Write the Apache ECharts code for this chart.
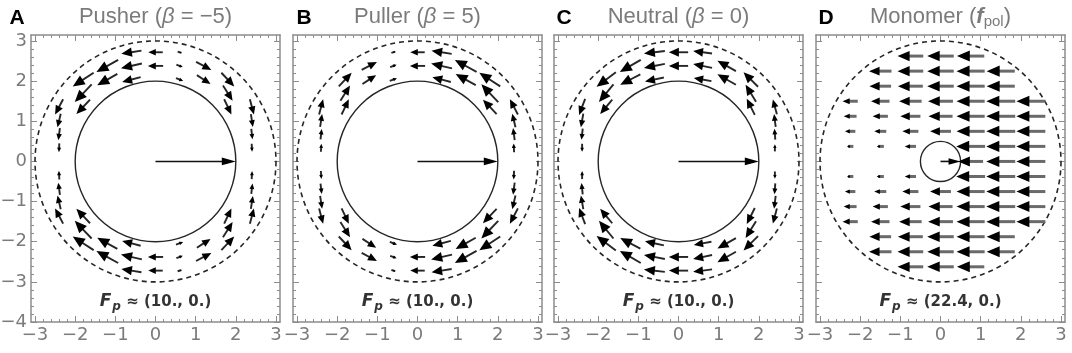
<!DOCTYPE html>
<html>
<head>
<meta charset="utf-8">
<script src="https://cdn.jsdelivr.net/npm/echarts@6/dist/echarts.min.js"></script>
<style>
  html, body { margin: 0; padding: 0; background: #fff; }
  #chart { width: 1072px; height: 353px; }
</style>
</head>
<body>
<div id="chart"></div>
<script>
// tick values
const xTicks = [-3, -2, -1, 0, 1, 2, 3];
const yTicks = [-4, -3, -2, -1, 0, 1, 2, 3];

// panel texts
const panelLetters = ['A', 'B', 'C', 'D'];
const panelTitles = ['Pusher ({i|β} = −5)', 'Puller ({i|β} = 5)', 'Neutral ({i|β} = 0)', 'Monomer ({b|f}{s|pol})'];
const forceText = ['(10., 0.)', '(10., 0.)', '(10., 0.)', '(22.4, 0.)'];

// body circle / outer dashed circle radius
const bodyRadius = [2, 2, 2, 0.5];
const outerRadius = [3, 3, 3, 3];

// propulsion arrow: tail x, tail y, dx, dy
const forceArrows = [[0, 0, 2, 0], [0, 0, 2, 0], [0, 0, 2, 0], [0, 0, 0.5, 0]];

// flow arrows: centre x, centre y, u, v
const pusherArrows = [
  [-0.6, 2.72, -0.5, -0.08], [0, 2.72, -0.36, 0], [0.6, 2.72, 0.1, -0.03],
  [-1.2, 2.38, -0.54, -0.3], [-0.6, 2.38, -0.52, -0.12], [0, 2.38, -0.38, 0], [0.6, 2.38, 0.16, -0.06], [1.2, 2.38, 0.38, -0.2],
  [-1.8, 2.04, -0.52, -0.34], [-1.2, 2.04, -0.5, -0.28], [-0.6, 2.04, -0.46, -0.12], [0.6, 2.04, 0.18, -0.07], [1.2, 2.04, 0.34, -0.22], [1.8, 2.04, 0.32, -0.34],
  [-1.8, 1.7, -0.42, -0.44], [1.8, 1.7, 0.24, -0.38],
  [-2.4, 1.36, -0.2, -0.38], [-1.8, 1.36, -0.34, -0.36], [1.8, 1.36, 0.18, -0.38], [2.4, 1.36, 0.1, -0.38],
  [-2.4, 1.02, -0.08, -0.34], [2.4, 1.02, 0.05, -0.32],
  [-2.4, 0.68, -0.04, -0.3], [2.4, 0.68, 0.03, -0.26],
  [-2.4, 0.34, -0.01, -0.22], [2.4, 0.34, 0.01, -0.2],
  [-2.4, -0.34, -0.01, 0.22], [2.4, -0.34, 0.01, 0.2],
  [-2.4, -0.68, -0.04, 0.3], [2.4, -0.68, 0.03, 0.26],
  [-2.4, -1.02, -0.08, 0.34], [2.4, -1.02, 0.05, 0.32],
  [-2.4, -1.36, -0.2, 0.38], [-1.8, -1.36, -0.34, 0.36], [1.8, -1.36, 0.18, 0.38], [2.4, -1.36, 0.1, 0.38],
  [-1.8, -1.7, -0.42, 0.44], [1.8, -1.7, 0.24, 0.38],
  [-1.8, -2.04, -0.52, 0.34], [-1.2, -2.04, -0.5, 0.28], [-0.6, -2.04, -0.46, 0.12], [0.6, -2.04, 0.18, 0.07], [1.2, -2.04, 0.34, 0.22], [1.8, -2.04, 0.32, 0.34],
  [-1.2, -2.38, -0.54, 0.3], [-0.6, -2.38, -0.52, 0.12], [0, -2.38, -0.38, 0], [0.6, -2.38, 0.16, 0.06], [1.2, -2.38, 0.38, 0.2],
  [-0.6, -2.72, -0.5, 0.08], [0, -2.72, -0.36, 0], [0.6, -2.72, 0.1, 0.03]
];

const pullerArrows = [
  [0.6, 2.72, -0.5, 0.08], [0, 2.72, -0.36, 0], [-0.6, 2.72, 0.1, 0.03],
  [1.2, 2.38, -0.54, 0.3], [0.6, 2.38, -0.52, 0.12], [0, 2.38, -0.38, 0], [-0.6, 2.38, 0.16, 0.06], [-1.2, 2.38, 0.38, 0.2],
  [1.8, 2.04, -0.52, 0.34], [1.2, 2.04, -0.5, 0.28], [0.6, 2.04, -0.46, 0.12], [-0.6, 2.04, 0.18, 0.07], [-1.2, 2.04, 0.34, 0.22], [-1.8, 2.04, 0.32, 0.34],
  [1.8, 1.7, -0.42, 0.44], [-1.8, 1.7, 0.24, 0.38],
  [2.4, 1.36, -0.2, 0.38], [1.8, 1.36, -0.34, 0.36], [-1.8, 1.36, 0.18, 0.38], [-2.4, 1.36, 0.1, 0.38],
  [2.4, 1.02, -0.08, 0.34], [-2.4, 1.02, 0.05, 0.32],
  [2.4, 0.68, -0.04, 0.3], [-2.4, 0.68, 0.03, 0.26],
  [2.4, 0.34, -0.01, 0.22], [-2.4, 0.34, 0.01, 0.2],
  [2.4, -0.34, -0.01, -0.22], [-2.4, -0.34, 0.01, -0.2],
  [2.4, -0.68, -0.04, -0.3], [-2.4, -0.68, 0.03, -0.26],
  [2.4, -1.02, -0.08, -0.34], [-2.4, -1.02, 0.05, -0.32],
  [2.4, -1.36, -0.2, -0.38], [1.8, -1.36, -0.34, -0.36], [-1.8, -1.36, 0.18, -0.38], [-2.4, -1.36, 0.1, -0.38],
  [1.8, -1.7, -0.42, -0.44], [-1.8, -1.7, 0.24, -0.38],
  [1.8, -2.04, -0.52, -0.34], [1.2, -2.04, -0.5, -0.28], [0.6, -2.04, -0.46, -0.12], [-0.6, -2.04, 0.18, -0.07], [-1.2, -2.04, 0.34, -0.22], [-1.8, -2.04, 0.32, -0.34],
  [1.2, -2.38, -0.54, -0.3], [0.6, -2.38, -0.52, -0.12], [0, -2.38, -0.38, 0], [-0.6, -2.38, 0.16, -0.06], [-1.2, -2.38, 0.38, -0.2],
  [0.6, -2.72, -0.5, -0.08], [0, -2.72, -0.36, 0], [-0.6, -2.72, 0.1, -0.03]
];

const neutralArrows = [
  [-0.6, 2.72, -0.52, -0.06], [0, 2.72, -0.48, 0], [0.6, 2.72, -0.47, 0.06],
  [-1.2, 2.38, -0.52, -0.3], [-0.6, 2.38, -0.52, -0.1], [0, 2.38, -0.48, 0], [0.6, 2.38, -0.47, 0.1], [1.2, 2.38, -0.46, 0.26],
  [-1.8, 2.04, -0.48, -0.36], [-1.2, 2.04, -0.5, -0.26], [-0.6, 2.04, -0.47, -0.1], [0.6, 2.04, -0.44, 0.08], [1.2, 2.04, -0.46, 0.26], [1.8, 2.04, -0.36, 0.36],
  [-1.8, 1.7, -0.36, -0.44], [1.8, 1.7, -0.26, 0.42],
  [-2.4, 1.36, -0.15, -0.4], [-1.8, 1.36, -0.3, -0.36], [1.8, 1.36, -0.2, 0.4], [2.4, 1.36, -0.1, 0.37],
  [-2.4, 1.02, -0.06, -0.34], [2.4, 1.02, -0.04, 0.32],
  [-2.4, 0.68, -0.03, -0.28], [2.4, 0.68, -0.02, 0.27],
  [-2.4, 0.34, 0, -0.2], [2.4, 0.34, 0, 0.18],
  [-2.4, -0.34, 0, 0.2], [2.4, -0.34, 0, -0.18],
  [-2.4, -0.68, -0.03, 0.28], [2.4, -0.68, -0.02, -0.27],
  [-2.4, -1.02, -0.06, 0.34], [2.4, -1.02, -0.04, -0.32],
  [-2.4, -1.36, -0.15, 0.4], [-1.8, -1.36, -0.3, 0.36], [1.8, -1.36, -0.2, -0.4], [2.4, -1.36, -0.1, -0.37],
  [-1.8, -1.7, -0.36, 0.44], [1.8, -1.7, -0.26, -0.42],
  [-1.8, -2.04, -0.48, 0.36], [-1.2, -2.04, -0.5, 0.26], [-0.6, -2.04, -0.47, 0.1], [0.6, -2.04, -0.44, -0.08], [1.2, -2.04, -0.46, -0.26], [1.8, -2.04, -0.36, -0.36],
  [-1.2, -2.38, -0.52, 0.3], [-0.6, -2.38, -0.52, 0.1], [0, -2.38, -0.48, 0], [0.6, -2.38, -0.47, -0.1], [1.2, -2.38, -0.46, -0.26],
  [-0.6, -2.72, -0.52, 0.06], [0, -2.72, -0.48, 0], [0.6, -2.72, -0.47, -0.06]
];

const monomerArrows = [
  [-0.75, 2.625, -0.64, 0], [0, 2.625, -0.66, 0], [0.75, 2.625, -0.68, 0],
  [-1.5, 2.25, -0.56, 0], [-0.75, 2.25, -0.64, 0], [0, 2.25, -0.66, 0], [0.75, 2.25, -0.7, 0], [1.5, 2.25, -0.7, 0],
  [-1.5, 1.875, -0.54, 0], [-0.75, 1.875, -0.62, 0], [0, 1.875, -0.66, 0], [0.75, 1.875, -0.7, 0], [1.5, 1.875, -0.7, 0],
  [-2.25, 1.5, -0.38, 0], [-1.5, 1.5, -0.46, 0], [-0.75, 1.5, -0.56, 0], [0, 1.5, -0.62, 0], [0.75, 1.5, -0.7, 0], [1.5, 1.5, -0.72, 0], [2.25, 1.5, -0.72, 0],
  [-2.25, 1.125, -0.32, 0], [-1.5, 1.125, -0.38, 0], [-0.75, 1.125, -0.5, 0], [0, 1.125, -0.6, 0], [0.75, 1.125, -0.7, 0], [1.5, 1.125, -0.72, 0], [2.25, 1.125, -0.72, 0],
  [-2.25, 0.75, -0.26, 0], [-1.5, 0.75, -0.3, 0], [-0.75, 0.75, -0.4, 0], [0, 0.75, -0.52, 0], [0.75, 0.75, -0.7, 0], [1.5, 0.75, -0.72, 0], [2.25, 0.75, -0.72, 0],
  [-2.25, 0.375, -0.16, 0], [-1.5, 0.375, -0.18, 0], [-0.75, 0.375, -0.28, 0], [0.75, 0.375, -0.72, 0], [1.5, 0.375, -0.72, 0], [2.25, 0.375, -0.72, 0],
  [0.75, 0, -0.62, 0], [1.5, 0, -0.72, 0], [2.25, 0, -0.72, 0],
  [-2.25, -0.375, -0.16, 0], [-1.5, -0.375, -0.18, 0], [-0.75, -0.375, -0.28, 0], [0.75, -0.375, -0.72, 0], [1.5, -0.375, -0.72, 0], [2.25, -0.375, -0.72, 0],
  [-2.25, -0.75, -0.26, 0], [-1.5, -0.75, -0.3, 0], [-0.75, -0.75, -0.4, 0], [0, -0.75, -0.52, 0], [0.75, -0.75, -0.7, 0], [1.5, -0.75, -0.72, 0], [2.25, -0.75, -0.72, 0],
  [-2.25, -1.125, -0.32, 0], [-1.5, -1.125, -0.38, 0], [-0.75, -1.125, -0.5, 0], [0, -1.125, -0.6, 0], [0.75, -1.125, -0.7, 0], [1.5, -1.125, -0.72, 0], [2.25, -1.125, -0.72, 0],
  [-2.25, -1.5, -0.38, 0], [-1.5, -1.5, -0.46, 0], [-0.75, -1.5, -0.56, 0], [0, -1.5, -0.62, 0], [0.75, -1.5, -0.7, 0], [1.5, -1.5, -0.72, 0], [2.25, -1.5, -0.72, 0],
  [-1.5, -1.875, -0.54, 0], [-0.75, -1.875, -0.62, 0], [0, -1.875, -0.66, 0], [0.75, -1.875, -0.7, 0], [1.5, -1.875, -0.7, 0],
  [-1.5, -2.25, -0.56, 0], [-0.75, -2.25, -0.64, 0], [0, -2.25, -0.66, 0], [0.75, -2.25, -0.7, 0], [1.5, -2.25, -0.7, 0],
  [-0.75, -2.625, -0.64, 0], [0, -2.625, -0.66, 0], [0.75, -2.625, -0.68, 0]
];

const fieldArrows = [pusherArrows, pullerArrows, neutralArrows, monomerArrows];

// layout
const panelLeft = [31, 293, 554, 816];
const panelWidth = 249;
const panelTop = 35;
const panelHeight = 287;
const letterX = [17, 304, 564, 826];

const AXIS = '#8c8c8c';
const LABEL = '#7b7b7b';
const FONT = 'DejaVu Sans';

const minorX = [];
for (let k = -30; k <= 30; k += 2) if (k % 10 !== 0) minorX.push(k / 10);
const minorY = [];
for (let k = -40; k <= 30; k += 2) if (k % 10 !== 0) minorY.push(k / 10);

function fmt(v) {
  return v < 0 ? '\u2212' + (-v) : String(v);
}

function frameAxis(i, pos, range, major, minor, labels) {
  const base = { type: 'value', gridIndex: i, min: range[0], max: range[1], position: pos, splitLine: { show: false } };
  return [
    Object.assign({}, base, {
      axisLine: { show: true, onZero: false, lineStyle: { color: AXIS, width: 1.5 } },
      axisTick: { show: true, inside: true, length: 6, customValues: major, lineStyle: { color: AXIS, width: 1 } },
      axisLabel: labels
        ? { show: true, customValues: major, formatter: fmt, color: LABEL, fontSize: 18, fontFamily: FONT, margin: 4 }
        : { show: false }
    }),
    Object.assign({}, base, {
      axisLine: { show: false, onZero: false },
      axisTick: { show: true, inside: true, length: 3, customValues: minor, lineStyle: { color: AXIS, width: 1 } },
      axisLabel: { show: false }
    })
  ];
}

function circleRender(dash, width) {
  return function (params, api) {
    const c = api.coord([api.value(0), api.value(1)]);
    const r = api.size([api.value(2), 0])[0];
    return {
      type: 'circle',
      shape: { cx: c[0], cy: c[1], r: r },
      style: { fill: 'none', stroke: '#262626', lineWidth: width, lineDash: dash }
    };
  };
}

function arrowRender(st) {
  return function (params, api) {
    const x = api.value(0), y = api.value(1), u = api.value(2), v = api.value(3);
    const a = api.coord([x - u * st.back, y - v * st.back]);
    const b = api.coord([x + u * (1 - st.back), y + v * (1 - st.back)]);
    const dx = b[0] - a[0], dy = b[1] - a[1];
    const len = Math.sqrt(dx * dx + dy * dy);
    if (len < 1) return null;
    const ux = dx / len, uy = dy / len;
    const hl = Math.min(len * st.ratio, st.maxHead);
    const hw = hl * st.aspect / 2;
    const bx = b[0] - ux * hl, by = b[1] - uy * hl;
    return {
      type: 'group',
      children: [
        {
          type: 'line',
          shape: { x1: a[0], y1: a[1], x2: bx + ux * 2, y2: by + uy * 2 },
          style: { stroke: st.shaft, lineWidth: st.width }
        },
        {
          type: 'polygon',
          shape: { points: [[b[0], b[1]], [bx - uy * hw, by + ux * hw], [bx + uy * hw, by - ux * hw]] },
          style: { fill: st.head }
        }
      ]
    };
  };
}

const fieldStyle = { back: 0.5, shaft: '#262626', head: '#000', width: 1.9, ratio: 0.52, maxHead: 12, aspect: 0.88 };
const monoStyle = { back: 0.5, shaft: '#6a6a6a', head: '#000', width: 3, ratio: 0.47, maxHead: 13, aspect: 0.85 };
const forceStyle = { back: 0, shaft: '#111', head: '#000', width: 1.6, ratio: 0.6, maxHead: 14, aspect: 0.55 };

const grids = [], xAxes = [], yAxes = [], series = [], graphics = [];

for (let i = 0; i < 4; i++) {
  grids.push({ left: panelLeft[i], top: panelTop, width: panelWidth, height: panelHeight, outerBoundsMode: 'none' });
  xAxes.push(...frameAxis(i, 'bottom', [-3.1, 3.1], xTicks, minorX, true));
  xAxes.push(...frameAxis(i, 'top', [-3.1, 3.1], xTicks, minorX, false));
  yAxes.push(...frameAxis(i, 'left', [-4, 3.15], yTicks, minorY, i === 0));
  yAxes.push(...frameAxis(i, 'right', [-4, 3.15], yTicks, minorY, false));

  const ax = { xAxisIndex: 4 * i, yAxisIndex: 4 * i };
  series.push(Object.assign({
    type: 'custom', silent: true, z: 2,
    data: [[0, 0, outerRadius[i]]],
    renderItem: circleRender([5, 4], 1.6)
  }, ax));
  series.push(Object.assign({
    type: 'custom', silent: true, z: 2,
    data: [[0, 0, bodyRadius[i]]],
    renderItem: circleRender(null, 1.4)
  }, ax));
  series.push(Object.assign({
    type: 'custom', silent: true, z: 3,
    data: fieldArrows[i],
    renderItem: arrowRender(i === 3 ? monoStyle : fieldStyle)
  }, ax));
  series.push(Object.assign({
    type: 'custom', silent: true, z: 4,
    data: [forceArrows[i]],
    renderItem: arrowRender(forceStyle)
  }, ax));
  series.push(Object.assign({
    type: 'scatter', silent: true, symbolSize: 0,
    data: [[0, -3.5]],
    label: {
      show: true, position: 'inside',
      formatter: '{f|F}{p|p}{t| \u2248 ' + forceText[i] + '}',
      rich: {
        f: { fontFamily: FONT, fontSize: 17, fontWeight: 'bold', fontStyle: 'italic', color: '#000' },
        p: { fontFamily: FONT, fontSize: 12, fontWeight: 'bold', fontStyle: 'italic', color: '#000', padding: [9, 0, 0, 1] },
        t: { fontFamily: FONT, fontSize: 15, fontWeight: 'bold', color: '#000' }
      }
    }
  }, ax));

  graphics.push({
    type: 'text', x: letterX[i], y: 18,
    style: { text: panelLetters[i], fill: '#000', fontFamily: 'Liberation Sans', fontWeight: 'bold', fontSize: 21, align: 'center', verticalAlign: 'middle' }
  });
  graphics.push({
    type: 'text', x: panelLeft[i] + panelWidth / 2, y: 17,
    style: {
      text: panelTitles[i], fill: '#7b7b7b', fontFamily: 'Liberation Sans', fontSize: 22, align: 'center', verticalAlign: 'middle',
      rich: {
        i: { fontFamily: 'Liberation Sans', fontSize: 22, fontStyle: 'italic', fill: '#7b7b7b' },
        b: { fontFamily: 'Liberation Sans', fontSize: 22, fontStyle: 'italic', fontWeight: 'bold', fill: '#7b7b7b' },
        s: { fontFamily: 'Liberation Sans', fontSize: 15, fill: '#7b7b7b', padding: [10, 0, 0, 0] }
      }
    }
  });
}

const chart = echarts.init(document.getElementById('chart'));
chart.setOption({
  animation: false,
  backgroundColor: '#fff',
  grid: grids,
  xAxis: xAxes,
  yAxis: yAxes,
  series: series,
  graphic: graphics
});
</script>
</body>
</html>
